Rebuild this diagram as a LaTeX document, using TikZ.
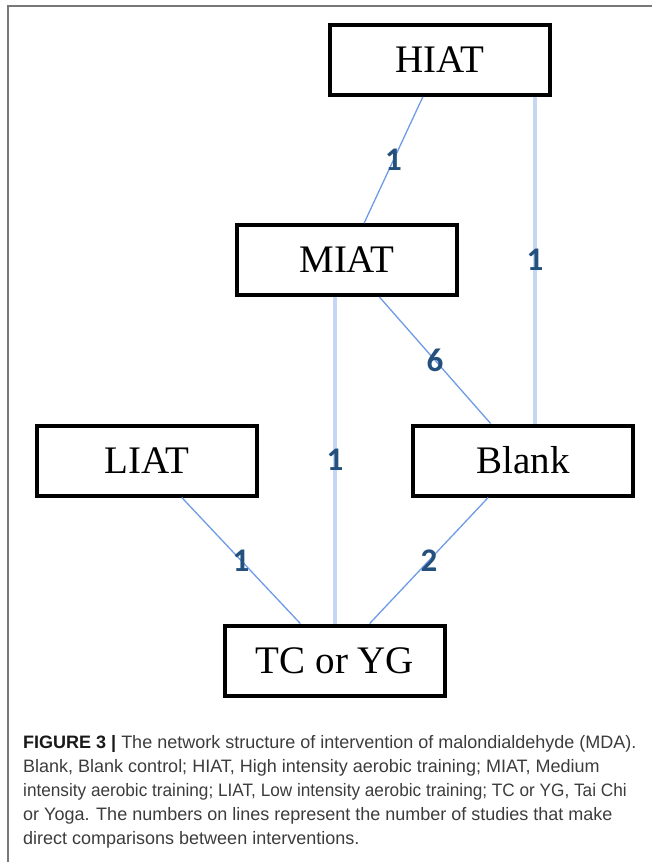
\documentclass[tikz,border=0pt]{standalone}
\usepackage{fontspec}
\setmainfont{Liberation Serif}
\newfontfamily\numfont{Carlito}
\newfontfamily\capfont{Liberation Sans}
\definecolor{thinblue}{RGB}{110,155,230}
\definecolor{wideblue}{RGB}{198,215,245}
\definecolor{numblue}{RGB}{35,80,125}
\definecolor{framegray}{RGB}{120,120,120}
\definecolor{captext}{RGB}{60,60,60}

\begin{document}
\begin{tikzpicture}[x=1pt,y=-1pt,
  box/.style={draw,line width=4pt,minimum width=220pt,minimum height=70pt,inner sep=0pt,
    font=\fontsize{39}{44}\selectfont},
  conn/.style={thinblue,line width=1.3pt},
  connwide/.style={wideblue,line width=3.5pt},
  num/.style={text=numblue,inner sep=0pt,font=\numfont\bfseries\fontsize{33}{36}\selectfont},
  capline/.style={anchor=base west,inner sep=0pt,text=captext,font=\capfont\fontsize{18}{23}\selectfont}]
\useasboundingbox (0,0) rectangle (652,862);

% Frame
\draw[framegray,line width=1.5pt] (8,862) -- (8,6) -- (652,6);

% Interventions
\foreach \name/\x/\y/\txt in {hiat/440/60/HIAT, miat/347/260/MIAT, liat/147/460.5/LIAT,
                              blank/523/460.5/Blank, tcyg/335/660.5/TC or YG} {
    \node[box] (\name) at (\x,\y) {\txt};
}

% Comparisons
\draw[conn] (hiat) -- node[num] {1} (miat);                                         % HIAT - MIAT
\draw[connwide] ([xshift=95pt]hiat.south) -- node[num] {1} ([xshift=95pt]hiat.south |- blank.north); % HIAT - Blank
\draw[conn] (miat) -- node[num] {6} (blank);                                        % MIAT - Blank
\draw[connwide] (miat.south -| tcyg.north) -- node[num] {1} (tcyg.north);          % MIAT - TC or YG
\draw[conn] (liat) -- node[num] {1} (tcyg);                                         % LIAT - TC or YG
\draw[conn] (blank) -- node[num] {2} (tcyg);                                        % Blank - TC or YG

% Caption
\foreach \txt [count=\i from 0] in {
    {\textbf{\color{black!90}FIGURE 3 |} The network structure of intervention of malondialdehyde (MDA).},
    {Blank, Blank control; HIAT, High intensity aerobic training; MIAT, Medium},
    {\scalebox{0.955}[1]{intensity aerobic training; LIAT, Low intensity aerobic training; TC or YG, Tai Chi}},
    {or Yoga. The numbers on lines represent the number of studies that make},
    {direct comparisons between interventions.}} {
    \node[capline] (cap\i) at (23,748+24*\i) {\txt};
}
\end{tikzpicture}
\end{document}
